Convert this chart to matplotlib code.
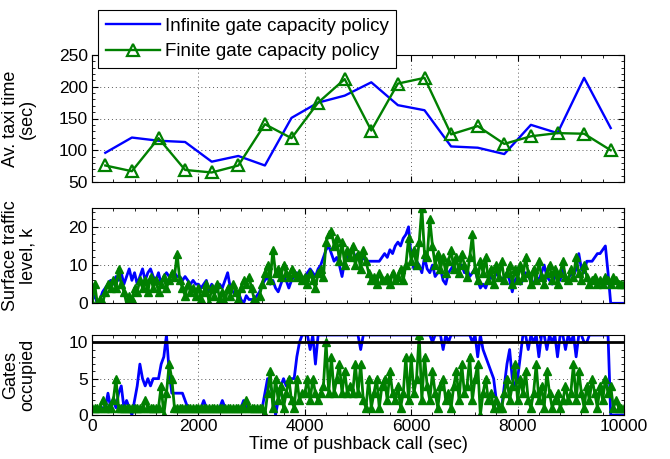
import numpy as np
import matplotlib
matplotlib.use("Agg")
import matplotlib.pyplot as plt
from matplotlib.ticker import MultipleLocator

plt.rcParams['font.family'] = ['Liberation Sans', 'DejaVu Sans']

# ---- Top panel: average taxi time per 500 s bin ----
bin_centers = [250, 750, 1250, 1750, 2250, 2750, 3250, 3750, 4250, 4750,
               5250, 5750, 6250, 6750, 7250, 7750, 8250, 8750, 9250, 9750]
taxi_infinite = [96, 120, 115, 113, 82, 91, 76, 151, 175, 186,
                 207, 171, 163, 106, 104, 94, 140, 127, 214, 135]
taxi_finite = [76, 67, 119, 69, 65, 76, 141, 119, 175, 212,
               131, 205, 214, 125, 138, 110, 122, 127, 126, 100]

# ---- Sample times for the event-level series ----
times = [0, 50, 100, 150, 200, 250, 300, 350, 400, 450, 500, 550, 600, 650, 700, 750, 800, 850, 900, 950,
         1000, 1050, 1100, 1150, 1200, 1250, 1300, 1350, 1400, 1450, 1500, 1550, 1600, 1650, 1700, 1750, 1800, 1850, 1900, 1950,
         2000, 2050, 2100, 2150, 2200, 2250, 2300, 2350, 2400, 2450, 2500, 2550, 2600, 2650, 2700, 2750, 2800, 2850, 2900, 2950,
         3000, 3050, 3100, 3150, 3200, 3250, 3300, 3350, 3400, 3450, 3500, 3550, 3600, 3650, 3700, 3750, 3800, 3850, 3900, 3950,
         4000, 4050, 4100, 4150, 4200, 4250, 4300, 4350, 4400, 4450, 4500, 4550, 4600, 4650, 4700, 4750, 4800, 4850, 4900, 4950,
         5000, 5050, 5100, 5150, 5200, 5250, 5300, 5350, 5400, 5450, 5500, 5550, 5600, 5650, 5700, 5750, 5800, 5850, 5900, 5950,
         6000, 6050, 6100, 6150, 6200, 6250, 6300, 6350, 6400, 6450, 6500, 6550, 6600, 6650, 6700, 6750, 6800, 6850, 6900, 6950,
         7000, 7050, 7100, 7150, 7200, 7250, 7300, 7350, 7400, 7450, 7500, 7550, 7600, 7650, 7700, 7750, 7800, 7850, 7900, 7950,
         8000, 8050, 8100, 8150, 8200, 8250, 8300, 8350, 8400, 8450, 8500, 8550, 8600, 8650, 8700, 8750, 8800, 8850, 8900, 8950,
         9000, 9050, 9100, 9150, 9200, 9250, 9300, 9350, 9400, 9450, 9500, 9550, 9600, 9650, 9700, 9750, 9800, 9850, 9900, 9950,
         10000]

# ---- Middle panel: surface traffic level ----
traffic_infinite = [1, 2, 0, 1, 3, 4, 5, 6, 5, 7, 6, 8, 5, 7, 9, 6, 8, 5, 7, 9,
                    6, 8, 9, 7, 6, 8, 5, 7, 8, 7, 7, 8, 7, 7, 6, 7, 6, 5, 6, 5,
                    5, 4, 5, 6, 3, 5, 4, 3, 5, 4, 6, 8, 4, 3, 2, 3, 1, 0, 2, 1,
                    1, 1, 2, 3, 5, 6, 7, 5, 6, 4, 3, 5, 7, 6, 4, 6, 7, 8, 7, 6,
                    7, 8, 9, 8, 7, 9, 10, 12, 14, 15, 13, 11, 12, 10, 7, 11, 12, 13, 14, 12,
                    13, 11, 12, 11, 11, 11, 11, 11, 11, 12, 13, 12, 14, 13, 15, 16, 15, 17, 18, 20,
                    12, 9, 11, 10, 8, 12, 9, 8, 10, 7, 8, 9, 6, 5, 8, 9, 10, 8, 9, 10,
                    8, 9, 7, 8, 9, 6, 4, 5, 4, 6, 7, 6, 8, 7, 6, 7, 8, 6, 3, 6,
                    7, 5, 6, 8, 7, 6, 5, 7, 6, 8, 10, 7, 6, 5, 7, 8, 6, 9, 7, 6,
                    8, 7, 9, 13, 9, 8, 11, 11, 11, 12, 13, 13, 14, 15, 8, 0, 0, 0, 0, 0,
                    0]
traffic_finite = [0, 5, 0, 1, 0, 3, 5, 4, 6, 4, 9, 5, 3, 0, 2, 1, 4, 3, 6, 4,
                  6, 3, 7, 4, 6, 3, 5, 7, 4, 6, 8, 7, 13, 6, 4, 2, 5, 3, 4, 2,
                  4, 1, 3, 5, 0, 4, 2, 5, 1, 3, 0, 4, 2, 5, 3, 1, 4, 6, 5, 7,
                  4, 1, 0, 2, 5, 8, 10, 6, 14, 8, 9, 7, 10, 8, 7, 9, 8, 7, 8, 6,
                  7, 5, 8, 6, 4, 8, 9, 7, 16, 18, 19, 15, 17, 11, 16, 10, 14, 12, 15, 10,
                  13, 9, 14, 11, 8, 6, 7, 5, 8, 6, 6, 7, 5, 8, 6, 7, 9, 6, 10, 17,
                  11, 14, 10, 16, 25, 13, 12, 22, 15, 10, 13, 9, 12, 8, 11, 14, 9, 12, 8, 13,
                  10, 7, 12, 18, 9, 6, 11, 8, 12, 6, 9, 5, 10, 7, 11, 6, 8, 10, 5, 9,
                  6, 10, 7, 12, 8, 5, 9, 6, 11, 7, 5, 8, 10, 6, 9, 5, 8, 11, 7, 6,
                  9, 7, 12, 8, 6, 10, 7, 5, 6, 7, 5, 6, 5, 7, 6, 5, 7, 6, 5, 5,
                  5]

# ---- Bottom panel: gates occupied ----
gates_infinite = [1, 1, 1, 1, 1, 1, 3, 1, 2, 1, 3, 4, 1, 2, 1, 0, 2, 4, 7, 5,
                  4, 5, 4, 5, 5, 5, 7, 8, 11, 6, 3, 3, 3, 3, 3, 2, 1, 1, 1, 1,
                  1, 1, 2, 1, 1, 1, 1, 1, 1, 2, 1, 1, 1, 1, 1, 1, 1, 2, 1, 1,
                  1, 1, 1, 1, 1, 3, 5, 4, 3, 0, 2, 4, 5, 4, 5, 5, 5, 8, 10, 11,
                  11, 11, 9, 11, 7, 11, 11, 11, 11, 11, 11, 11, 11, 11, 11, 11, 11, 11, 11, 11,
                  11, 9, 11, 11, 11, 11, 11, 11, 11, 11, 11, 11, 11, 11, 11, 11, 11, 11, 11, 11,
                  11, 11, 11, 11, 11, 11, 11, 11, 10, 11, 11, 11, 9, 11, 10, 11, 11, 11, 11, 11,
                  11, 11, 11, 10, 11, 8, 11, 9, 8, 7, 6, 5, 2, 1, 1, 4, 7, 9, 5, 4,
                  5, 8, 11, 11, 9, 11, 10, 11, 8, 11, 11, 9, 11, 10, 11, 8, 11, 11, 9, 11,
                  10, 11, 8, 11, 11, 10, 10, 11, 11, 11, 11, 11, 11, 11, 11, 0, 0, 0, 0, 0,
                  0]
gates_finite = [1, 1, 1, 1, 2, 1, 1, 1, 2, 5, 1, 1, 1, 1, 1, 1, 1, 1, 1, 1,
                2, 1, 1, 1, 1, 1, 4, 0, 3, 7, 5, 1, 1, 1, 1, 1, 1, 1, 1, 1,
                1, 1, 1, 1, 1, 1, 1, 1, 1, 1, 1, 1, 1, 1, 1, 1, 1, 1, 2, 1,
                1, 1, 1, 1, 1, 0, 3, 6, 1, 5, 2, 4, 1, 3, 5, 2, 1, 5, 2, 3,
                3, 5, 2, 5, 3, 2, 3, 4, 10, 3, 8, 3, 5, 7, 3, 6, 3, 4, 3, 7,
                3, 7, 2, 1, 5, 1, 3, 5, 1, 4, 5, 2, 6, 3, 2, 4, 1, 3, 8, 2,
                8, 3, 5, 11, 2, 8, 4, 2, 6, 3, 1, 4, 5, 2, 3, 1, 4, 6, 2, 7,
                3, 4, 8, 2, 5, 7, 0, 3, 5, 2, 3, 1, 2, 1, 1, 3, 5, 2, 4, 7,
                2, 5, 3, 6, 2, 1, 3, 7, 2, 4, 1, 6, 3, 1, 2, 3, 1, 2, 4, 2,
                3, 7, 2, 6, 3, 1, 4, 2, 5, 3, 1, 4, 2, 5, 3, 4, 1, 2, 1, 1,
                1]
gate_capacity = 10

BLUE = '#0000ff'
GREEN = '#008000'
FS = 12.5

fig = plt.figure(figsize=(6.7, 4.59), dpi=100)
L, R = 92 / 670, 624 / 670
W = R - L
ax1 = fig.add_axes([L, 1 - 182 / 459, W, (182 - 55) / 459])
ax2 = fig.add_axes([L, 1 - 303.3 / 459, W, (303.3 - 207.7) / 459])
ax3 = fig.add_axes([L, 1 - 415 / 459, W, (415 - 335) / 459])

l1, = ax1.plot(bin_centers, taxi_infinite, color=BLUE, lw=1.7)
l2, = ax1.plot(bin_centers, taxi_finite, color=GREEN, lw=1.7, marker='^',
               ms=8.5, mfc='none', mew=1.6)
ax1.set_ylim(50, 250)
ax1.yaxis.set_major_locator(MultipleLocator(50))
ax1.yaxis.set_minor_locator(MultipleLocator(10))
ax1.set_ylabel('Av. taxi time\n(sec)', fontsize=13, linespacing=1.0)

ax2.plot(times, traffic_infinite, color=BLUE, lw=2.0)
ax2.plot(times, traffic_finite, color=GREEN, lw=2.0, marker='^', ms=5.5,
         mfc=GREEN, mew=1.0)
ax2.set_ylim(0, 25)
ax2.yaxis.set_major_locator(MultipleLocator(10))
ax2.yaxis.set_minor_locator(MultipleLocator(2))
ax2.set_ylabel('Surface traffic\nlevel, k', fontsize=13, linespacing=1.0)

ax3.plot(times, gates_infinite, color=BLUE, lw=2.0)
ax3.plot(times, gates_finite, color=GREEN, lw=2.0, marker='^', ms=5.5,
         mfc=GREEN, mew=1.0)
ax3.axhline(gate_capacity, color='black', lw=2)
ax3.set_ylim(0, 11)
ax3.yaxis.set_major_locator(MultipleLocator(5))
ax3.yaxis.set_minor_locator(MultipleLocator(1))
ax3.set_ylabel('Gates\noccupied', fontsize=13, linespacing=1.0)
ax3.set_xlabel('Time of pushback call (sec)', fontsize=13, labelpad=1)

for ax in (ax1, ax2, ax3):
    ax.set_xlim(0, 10000)
    ax.xaxis.set_major_locator(MultipleLocator(2000))
    ax.xaxis.set_minor_locator(MultipleLocator(400))
    ax.grid(True, which='major', color='0.35', linestyle=(0, (1, 3)), lw=0.7)
    ax.tick_params(which='both', direction='in', top=True, right=True,
                   labelsize=FS, pad=3)
    ax.tick_params(which='major', length=4)
    ax.tick_params(which='minor', length=2)
    for s in ax.spines.values():
        s.set_linewidth(0.8)
    ax.yaxis.set_label_coords(-0.105, 0.5)
for ax in (ax1, ax2):
    ax.tick_params(labelbottom=False)

leg = fig.legend([l1, l2], ['Infinite gate capacity policy', 'Finite gate capacity policy'],
                 loc='upper left', bbox_to_anchor=(98 / 670, 1 - 10 / 459),
                 fontsize=13.5, frameon=True, fancybox=False, edgecolor='black',
                 framealpha=1, borderpad=0.4, handlelength=2.9, handletextpad=0.25,
                 labelspacing=0.45, borderaxespad=0)
leg.get_frame().set_linewidth(0.8)

fig.savefig('out.png', dpi=100)
